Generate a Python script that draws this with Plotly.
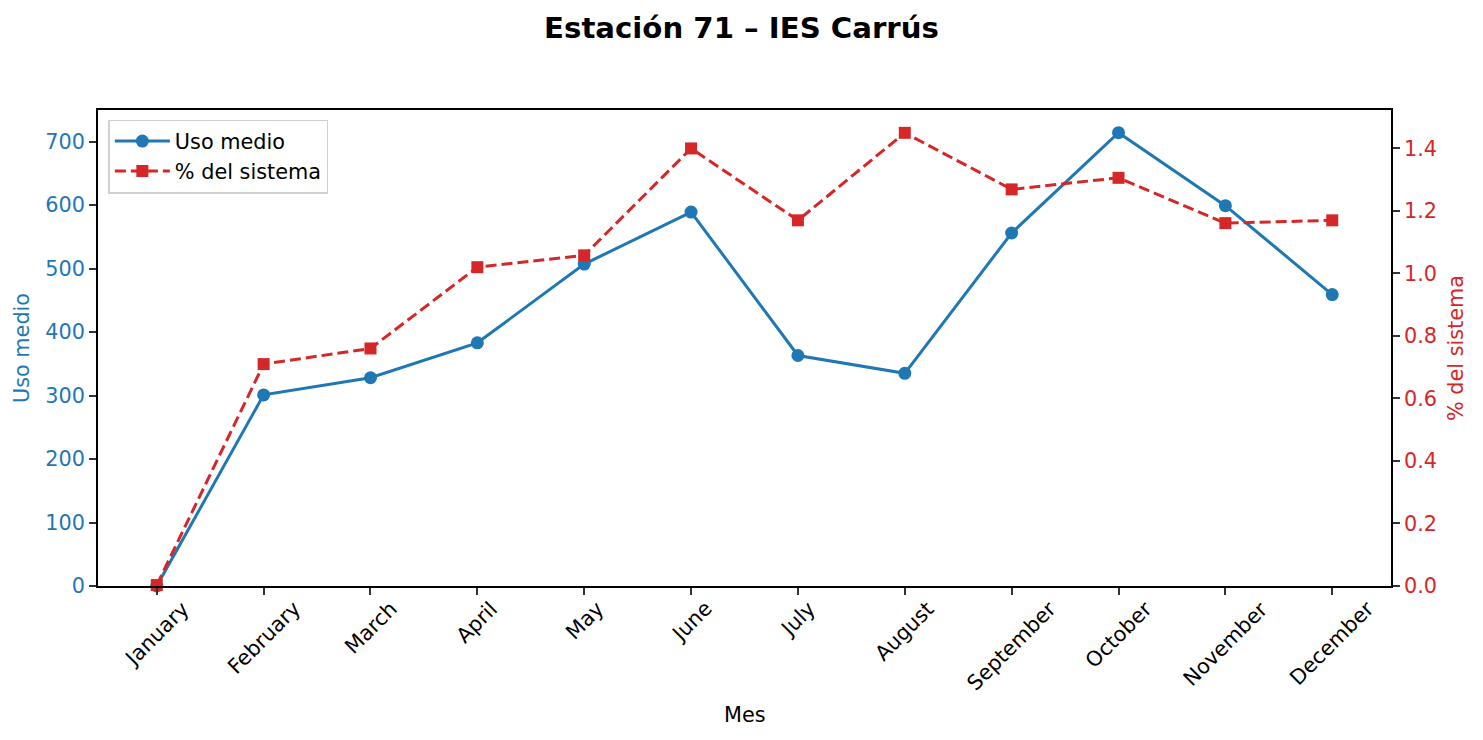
import plotly.graph_objects as go

months = ["January", "February", "March", "April", "May", "June", "July",
          "August", "September", "October", "November", "December"]
uso_medio = [0, 301, 328, 383, 507, 589, 363, 335, 556, 714, 599, 459]
pct_sistema = [0.003, 0.71, 0.76, 1.02, 1.058, 1.40, 1.17, 1.45, 1.269, 1.306, 1.161, 1.17]

BLUE = "#1f77b4"
RED = "#d62728"
FONT = "DejaVu Sans"
FS = 20.8

x_idx = list(range(len(months)))

fig = go.Figure()
fig.add_trace(go.Scatter(
    x=x_idx, y=uso_medio, name="Uso medio", mode="lines+markers",
    line=dict(color=BLUE, width=3),
    marker=dict(symbol="circle", size=13, color=BLUE),
    yaxis="y", cliponaxis=False,
))
fig.add_trace(go.Scatter(
    x=x_idx, y=pct_sistema, name="% del sistema", mode="lines+markers",
    line=dict(color=RED, width=3, dash="11px,5px"),
    marker=dict(symbol="square", size=12, color=RED),
    yaxis="y2", cliponaxis=False,
))

ymax1 = max(uso_medio) * 1.05
ymax2 = max(pct_sistema) * 1.05 + 0.0005

# x tick labels as centred, rotated annotations (matplotlib-style)
annotations = []
for i, m in zip(x_idx, months):
    annotations.append(dict(
        x=i, y=0, xref="x", yref="paper", text=m, showarrow=False,
        textangle=-45, xanchor="center", yanchor="top", yshift=-8,
        font=dict(family=FONT, size=FS, color="black"),
    ))
annotations.append(dict(
    x=0.5, y=0, xref="paper", yref="paper", text="Mes", showarrow=False,
    xanchor="center", yanchor="middle", yshift=-129,
    font=dict(family=FONT, size=FS, color="black"),
))

fig.update_layout(
    width=1483, height=740,
    margin=dict(l=98, r=92, t=110, b=154, autoexpand=False),
    paper_bgcolor="white", plot_bgcolor="white",
    font=dict(family=FONT, size=FS, color="black"),
    title=dict(text="<b>Estación 71 – IES Carrús</b>", x=0.5, xanchor="center",
               y=0.962, yanchor="middle", font=dict(family=FONT, size=29.2, color="black")),
    showlegend=True,
    legend=dict(x=0.008, y=0.98, xanchor="left", yanchor="top",
                bgcolor="rgba(255,255,255,0.8)", bordercolor="#d0d0d0", borderwidth=1.5,
                font=dict(family=FONT, size=FS, color="black"),
                tracegroupgap=0, itemwidth=55),
    annotations=annotations,
    xaxis=dict(
        range=[-0.55, len(months) - 1 + 0.55],
        tickmode="array", tickvals=x_idx, showticklabels=False,
        showgrid=False, zeroline=False,
        showline=True, linecolor="black", linewidth=1.7, mirror=True,
        ticks="outside", ticklen=7, tickwidth=1.6, tickcolor="#333",
    ),
    yaxis=dict(
        range=[0, ymax1],
        tickmode="array", tickvals=[0, 100, 200, 300, 400, 500, 600, 700],
        showgrid=False, zeroline=False,
        showline=True, linecolor="black", linewidth=1.7, mirror=False,
        ticks="outside", ticklen=7, tickwidth=1.6, tickcolor="#333",
        tickfont=dict(family=FONT, size=FS, color=BLUE),
        title=dict(text="Uso medio", font=dict(family=FONT, size=FS, color=BLUE), standoff=10),
    ),
    yaxis2=dict(
        range=[0, ymax2], overlaying="y", side="right",
        tickmode="array", tickvals=[0, 0.2, 0.4, 0.6, 0.8, 1.0, 1.2, 1.4],
        ticktext=["0.0", "0.2", "0.4", "0.6", "0.8", "1.0", "1.2", "1.4"],
        showgrid=False, zeroline=False,
        showline=True, linecolor="black", linewidth=1.7,
        ticks="outside", ticklen=7, tickwidth=1.6, tickcolor="#333",
        tickfont=dict(family=FONT, size=FS, color=RED),
        title=dict(text="% del sistema", font=dict(family=FONT, size=FS, color=RED), standoff=12),
    ),
)

fig.write_html("out.html")
